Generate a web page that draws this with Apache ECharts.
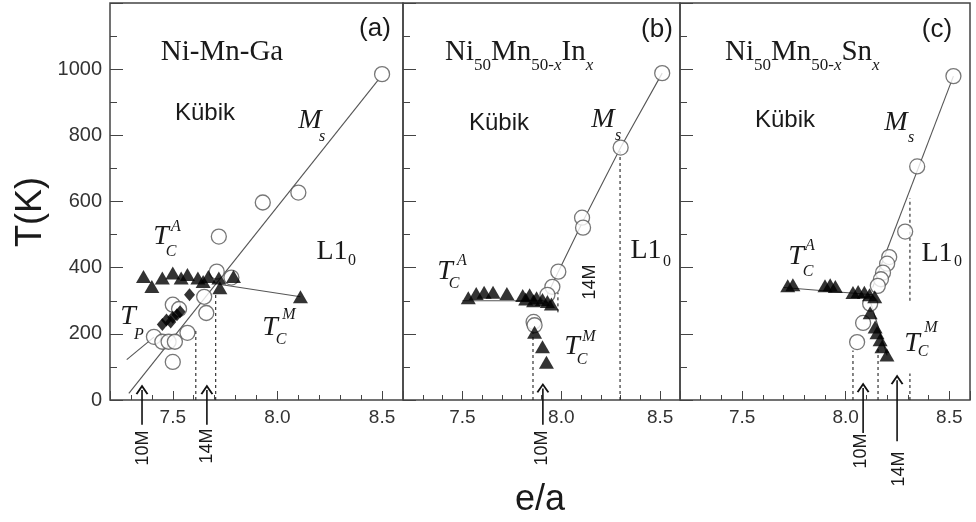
<!DOCTYPE html>
<html>
<head>
<meta charset="utf-8">
<script src="https://cdn.jsdelivr.net/npm/echarts@6.0.0/dist/echarts.min.js"></script>
<style>
html, body { margin: 0; padding: 0; background: #fff; }
#chart { width: 976px; height: 522px; }
</style>
</head>
<body>
<div id="chart"></div>
<script>
// axis label values
var xLabelValues = [7.5, 8.0, 8.5];
var yLabelValues = [0, 200, 400, 600, 800, 1000];

// (a) Ni-Mn-Ga  [e/a, T(K)]
var aCircles = [[8.50, 985], [8.10, 627], [7.93, 597], [7.72, 494], [7.71, 388], [7.78, 370],
  [7.65, 312], [7.66, 263], [7.57, 203], [7.50, 288], [7.53, 275], [7.41, 191],
  [7.45, 176], [7.48, 176], [7.51, 176], [7.50, 115]];
var aTriangles = [[7.36, 373], [7.40, 343], [7.45, 369], [7.50, 384], [7.54, 369], [7.57, 379],
  [7.62, 369], [7.645, 358], [7.67, 373], [7.72, 369], [7.725, 339], [7.79, 373], [8.11, 312]];
var aTp = [[7.58, 318], [7.535, 267], [7.52, 258], [7.50, 250], [7.47, 242], [7.45, 228], [7.49, 236]];
var aMsLine = [[7.29, 20], [8.48, 966]];
var aTpLine = [[7.28, 122], [7.41, 190]];
var aTcmLine = [[7.72, 350], [8.11, 312]];
var aDashed = [[[7.61, 0], [7.61, 215]], [[7.705, 0], [7.705, 325]]];
var aArrows = [[7.353, -75, 30], [7.663, -75, 30]];

// (b) Ni50Mn50-xInx
var bCircles = [[8.51, 988], [8.30, 763], [8.105, 551], [8.11, 521], [7.985, 388], [7.955, 342],
  [7.93, 318], [7.86, 236], [7.865, 226]];
var bTriangles = [[7.53, 309], [7.57, 322], [7.61, 326], [7.655, 326], [7.725, 322], [7.805, 316],
  [7.82, 305], [7.84, 318], [7.86, 300], [7.875, 309], [7.905, 304], [7.93, 298], [7.95, 290],
  [7.865, 205], [7.905, 161], [7.925, 114]];
var bMsLine = [[7.93, 318], [7.985, 388], [8.105, 535], [8.30, 763], [8.51, 988]];
var bTcaLine = [[7.50, 300], [7.95, 300]];
var bDashed = [[[7.857, 0], [7.857, 220]], [[7.983, 265], [7.983, 325]], [[8.297, 0], [8.297, 755]]];
var bArrows = [[7.907, -75, 35]];

// (c) Ni50Mn50-xSnx
var cCircles = [[8.52, 979], [8.345, 706], [8.287, 509], [8.21, 432], [8.20, 412], [8.18, 385],
  [8.17, 365], [8.155, 345], [8.118, 291], [8.084, 233], [8.055, 175]];
var cTriangles = [[7.72, 345], [7.745, 348], [7.90, 345], [7.925, 348], [7.95, 343], [8.035, 325],
  [8.06, 328], [8.09, 326], [8.115, 318], [8.14, 312], [8.118, 264], [8.142, 221], [8.151, 203],
  [8.166, 182], [8.175, 161], [8.199, 136]];
var cMsLine = [[8.13, 340], [8.52, 979]];
var cTcaLine = [[7.70, 340], [8.13, 318]];
var cTcmLine = [[8.11, 315], [8.20, 135]];
var cDashed = [[[8.035, 0], [8.035, 150]], [[8.156, 0], [8.156, 160]], [[8.31, 300], [8.31, 610]], [[8.31, 0], [8.31, 80]]];
var cArrows = [[8.084, -100, 36], [8.248, -125, 60]];

var serif = '"Liberation Serif", "Times New Roman", serif';
var sans = '"Liberation Sans", Arial, sans-serif';
var ink = '#1a1a1a';
var frame = '#444';

var panels = [
  { left: 110, width: 293 },
  { left: 403, width: 277 },
  { left: 680, width: 290 }
];

function isShown(v, list) {
  return list.some(function (t) { return Math.abs(v - t) < 1e-6; });
}

var grid = [], xAxis = [], yAxis = [];
panels.forEach(function (p, i) {
  grid.push({
    left: p.left, top: 3, width: p.width, height: 397,
    show: true, borderColor: frame, borderWidth: 1.5,
    backgroundColor: 'rgba(0,0,0,0)', containLabel: false, outerBoundsMode: 'none'
  });
  // minor ticks + labels
  xAxis.push({
    gridIndex: i, type: 'value', min: 7.2, max: 8.6, interval: 0.1,
    axisLine: { show: false, onZero: false },
    axisTick: { inside: true, length: 5, lineStyle: { color: frame, width: 1 } },
    splitLine: { show: false },
    axisLabel: {
      margin: 8, fontSize: 19, color: '#333', fontFamily: sans,
      formatter: function (v) { return isShown(v, xLabelValues) ? v.toFixed(1) : ''; }
    }
  });
  // major ticks
  xAxis.push({
    gridIndex: i, type: 'value', min: 7.2, max: 8.6, splitNumber: 3, minInterval: 0.5, maxInterval: 0.5,
    axisLine: { show: false, onZero: false }, position: 'bottom',
    axisTick: { inside: true, length: 9, lineStyle: { color: frame, width: 1 } },
    splitLine: { show: false }, axisLabel: { show: false }
  });
  yAxis.push({
    gridIndex: i, type: 'value', min: 0, max: 1200, interval: 100,
    axisLine: { show: false },
    axisTick: { inside: true, length: 7, lineStyle: { color: frame, width: 1 } },
    splitLine: { show: false },
    axisLabel: {
      show: i === 0, margin: 8, fontSize: 20, color: '#333', fontFamily: sans,
      formatter: function (v) { return isShown(v, yLabelValues) ? String(v) : ''; }
    }
  });
  yAxis.push({
    gridIndex: i, type: 'value', min: 0, max: 1200, interval: 200, position: 'left',
    axisLine: { show: false },
    axisTick: { inside: true, length: 13, lineStyle: { color: frame, width: 1 } },
    splitLine: { show: false }, axisLabel: { show: false }
  });
});

var series = [];
function ax(i) { return { xAxisIndex: i * 2, yAxisIndex: i * 2 }; }
function circles(i, data) {
  series.push(Object.assign({
    type: 'scatter', data: data, symbol: 'circle', symbolSize: 15, z: 3, silent: true,
    itemStyle: { color: '#fff', borderColor: '#555', borderWidth: 1.3 }
  }, ax(i)));
}
function filled(i, data, symbol, size) {
  series.push(Object.assign({
    type: 'scatter', data: data, symbol: symbol, symbolSize: size, z: 4, silent: true,
    itemStyle: { color: '#000' }
  }, ax(i)));
}
function line(i, data, dashed) {
  series.push(Object.assign({
    type: 'line', data: data, symbol: 'none', z: 2, silent: true, clip: false,
    lineStyle: { color: dashed ? '#222' : '#555', width: 1.1, type: dashed ? [3, 3] : 'solid' }
  }, ax(i)));
}
var chevron = 'path://M0,10 L5,0 L10,10';
function arrows(i, list) {
  list.forEach(function (a) {
    series.push(Object.assign({
      type: 'line', z: 5, silent: true, clip: false, showSymbol: true,
      data: [{ value: [a[0], a[1]], symbol: 'none' }, { value: [a[0], a[2]], symbol: chevron, symbolSize: [11, 8] }],
      lineStyle: { color: '#111', width: 1.6 },
      itemStyle: { color: 'rgba(0,0,0,0)', borderColor: '#111', borderWidth: 1.6 }
    }, ax(i)));
  });
}

// panel a
line(0, aMsLine); line(0, aTpLine); line(0, aTcmLine);
aDashed.forEach(function (d) { line(0, d, true); });
circles(0, aCircles);
filled(0, aTp, 'diamond', [11, 13]);
filled(0, aTriangles, 'triangle', [15, 13]);
arrows(0, aArrows);
// panel b
line(1, bMsLine); line(1, bTcaLine);
bDashed.forEach(function (d) { line(1, d, true); });
circles(1, bCircles);
filled(1, bTriangles, 'triangle', [15, 13]);
arrows(1, bArrows);
// panel c
line(2, cMsLine); line(2, cTcaLine); line(2, cTcmLine);
cDashed.forEach(function (d) { line(2, d, true); });
circles(2, cCircles);
filled(2, cTriangles, 'triangle', [15, 13]);
arrows(2, cArrows);

// text annotations
var measure = document.createElement('canvas').getContext('2d');
function txt(s, x, y, font, extra) {
  return Object.assign({
    type: 'text', x: x, y: y, z: 100, silent: true,
    style: { text: s, font: font, fill: ink, align: 'center', verticalAlign: 'middle',
      textAlign: 'center', textVerticalAlign: 'middle' }
  }, extra || {});
}
function runs(x0, y, parts) {
  var out = [], x = x0;
  parts.forEach(function (p) {
    var font = p[1] === 'm' ? '29px ' + serif : (p[1] === 'bi' ? 'italic ' : '') + '17px ' + serif;
    measure.font = font;
    var w = measure.measureText(p[0]).width;
    out.push({
      type: 'text', x: x, y: p[1] === 'm' ? y : y + 14, z: 100, silent: true,
      style: { text: p[0], font: font, fill: ink, align: 'left', verticalAlign: 'middle',
        textAlign: 'left', textVerticalAlign: 'middle' }
    });
    x += w;
  });
  return out;
}
var big = 'italic 28px ' + serif, small = 'italic 16px ' + serif;
var rot = { rotation: Math.PI / 2 };
var graphic = [
  txt('T(K)', 31, 212, '36px ' + sans, rot),
  txt('e/a', 540, 500, '36px ' + sans),
  // (a)
  txt('(a)', 375, 29, '26px ' + sans),
  txt('Ni-Mn-Ga', 222, 52, '29px ' + serif),
  txt('Kübik', 205, 113, '24px ' + sans),
  txt('M', 310, 121, big), txt('s', 322, 137, small),
  txt('T', 161, 237, big), txt('A', 176, 227, small), txt('C', 171, 252, small),
  txt('L1', 332, 252, '28px ' + serif), txt('0', 352, 261, '16px ' + serif),
  txt('T', 128, 317, big), txt('P', 139, 335, small),
  txt('T', 270, 328, big), txt('M', 289, 315, small), txt('C', 281, 340, small),
  txt('10M', 143, 448, '18px ' + sans, rot), txt('14M', 207, 446, '18px ' + sans, rot),
  // (b)
  txt('(b)', 657, 30, '26px ' + sans),
  txt('Kübik', 499, 123, '24px ' + sans),
  txt('M', 603, 120, big), txt('s', 618, 136, small),
  txt('T', 445, 272, big), txt('A', 462, 261, small), txt('C', 454, 284, small),
  txt('L1', 646, 251, '28px ' + serif), txt('0', 667, 262, '16px ' + serif),
  txt('T', 572, 347, big), txt('M', 589, 337, small), txt('C', 582, 360, small),
  txt('14M', 590, 282, '18px ' + sans, rot),
  txt('10M', 542, 448, '18px ' + sans, rot),
  // (c)
  txt('(c)', 937, 30, '26px ' + sans),
  txt('Kübik', 785, 120, '24px ' + sans),
  txt('M', 896, 123, big), txt('s', 911, 138, small),
  txt('T', 796, 257, big), txt('A', 810, 246, small), txt('C', 808, 272, small),
  txt('L1', 937, 254, '28px ' + serif), txt('0', 958, 262, '16px ' + serif),
  txt('T', 912, 344, big), txt('M', 931, 328, small), txt('C', 923, 352, small),
  txt('10M', 861, 451, '18px ' + sans, rot), txt('14M', 899, 469, '18px ' + sans, rot)
].concat(
  runs(445, 52, [['Ni', 'm'], ['50', 'b'], ['Mn', 'm'], ['50-', 'b'], ['x', 'bi'], ['In', 'm'], ['x', 'bi']]),
  runs(725, 52, [['Ni', 'm'], ['50', 'b'], ['Mn', 'm'], ['50-', 'b'], ['x', 'bi'], ['Sn', 'm'], ['x', 'bi']])
);

var myChart = echarts.init(document.getElementById('chart'));
myChart.setOption({
  animation: false,
  backgroundColor: '#fff',
  grid: grid,
  xAxis: xAxis,
  yAxis: yAxis,
  series: series,
  graphic: graphic
});
</script>
</body>
</html>
